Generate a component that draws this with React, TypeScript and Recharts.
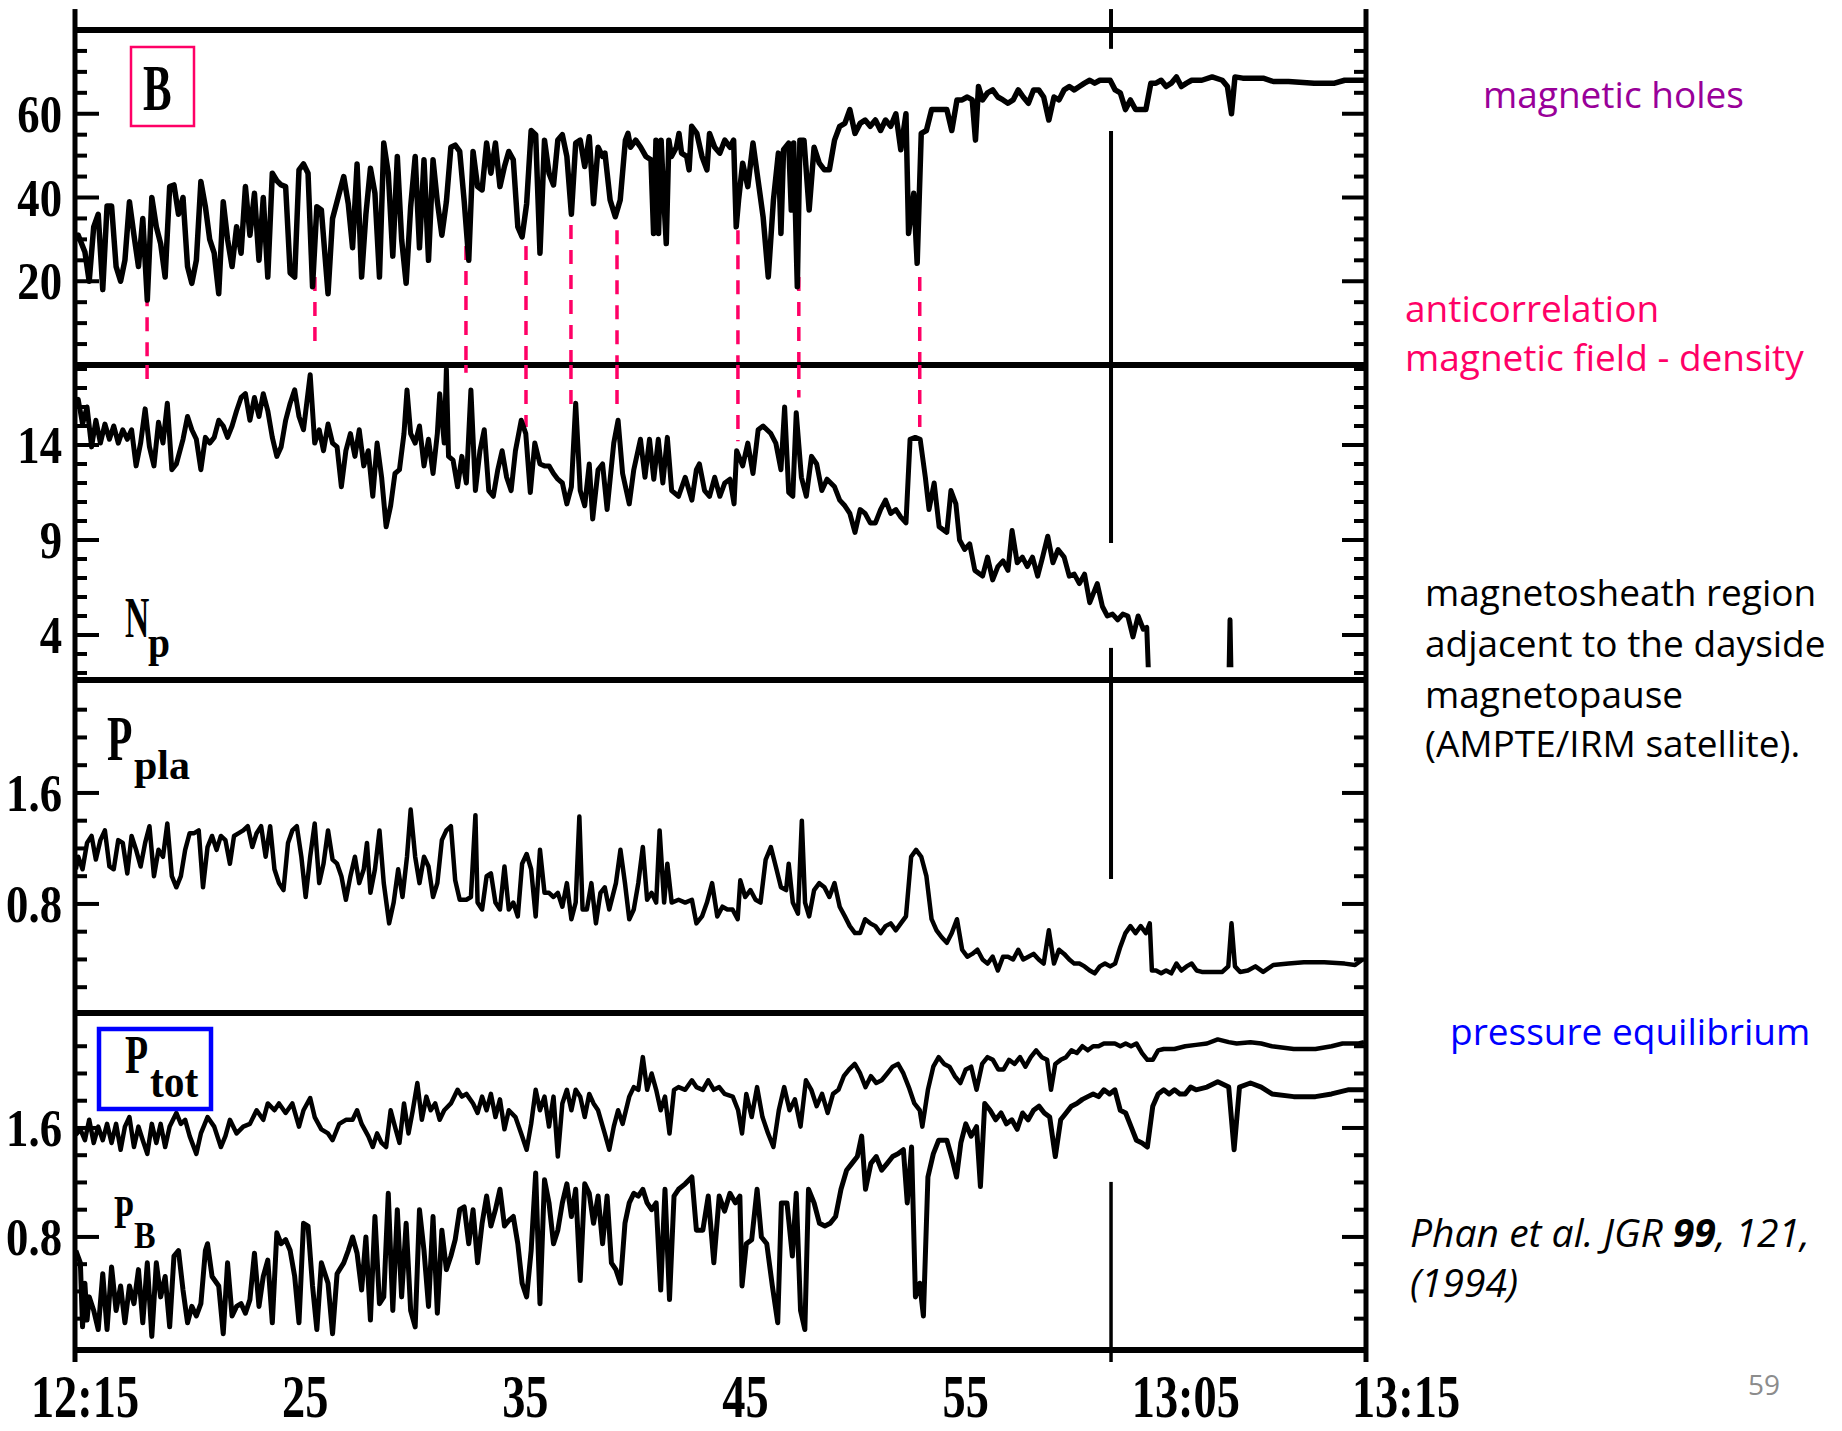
import React from 'react';
import { LineChart, Line, XAxis, YAxis, ReferenceLine } from 'recharts';

type Pt = [number, number | null];

// Time axis: minutes after 12:15 UT
const timeTicks = [0, 10, 20, 30, 40, 50, 60];
const timeLabels = ['12:15', '25', '35', '45', '55', '13:05', '13:15'];

// |B| (nT)
const fieldB: Pt[] = [
  [0.04, 30], [0.15, 31], [0.46, 27], [0.66, 20], [0.87, 33], [1.08, 36], [1.29, 18], [1.49, 38], [1.7, 38], [1.91, 23.5],
  [2.12, 20], [2.32, 25], [2.53, 39], [2.74, 31], [2.95, 23.5], [3.15, 35], [3.36, 15.5], [3.57, 40], [3.78, 33], [3.98, 29],
  [4.19, 21], [4.4, 42.6], [4.6, 43], [4.81, 36], [5.02, 40], [5.23, 23.5], [5.43, 19.5], [5.64, 25], [5.85, 43.8], [6.06, 37.8],
  [6.26, 30], [6.47, 26.7], [6.68, 17], [6.89, 39], [7.09, 30], [7.3, 23.5], [7.51, 33], [7.72, 26.7], [7.92, 42.6], [8.13, 31],
  [8.34, 41], [8.55, 25], [8.75, 40], [8.96, 21], [9.17, 45.8], [9.38, 44], [9.58, 43], [9.79, 42.6], [10.0, 22], [10.21, 21],
  [10.41, 46.6], [10.62, 48], [10.83, 45.8], [11.04, 18.7], [11.24, 37.8], [11.45, 37], [11.76, 17], [11.97, 35], [12.28, 41], [12.49, 45],
  [12.7, 38.5], [12.9, 28], [13.11, 48], [13.32, 21], [13.52, 36], [13.73, 47], [13.94, 41], [14.15, 21], [14.35, 53], [14.56, 45.8],
  [14.77, 26], [14.98, 49.8], [15.18, 30], [15.39, 19.5], [15.6, 37.8], [15.81, 49.8], [16.01, 28], [16.22, 49], [16.43, 25], [16.64, 49],
  [16.84, 39], [17.05, 31], [17.26, 39], [17.47, 52], [17.67, 52.5], [17.88, 51], [18.09, 39], [18.3, 25], [18.5, 51], [18.71, 42.6],
  [18.92, 41.8], [19.13, 53], [19.33, 45.8], [19.54, 53], [19.75, 42.6], [19.96, 47.4], [20.16, 51], [20.37, 49], [20.58, 33], [20.78, 30.6],
  [20.99, 38.5], [21.2, 56], [21.41, 55], [21.61, 26.7], [21.82, 53.7], [22.03, 45.8], [22.24, 43], [22.44, 53.7], [22.65, 55], [22.86, 49.8],
  [23.07, 36], [23.27, 53], [23.48, 53.7], [23.69, 47.4], [23.9, 54.5], [24.1, 38.5], [24.31, 52], [24.52, 49.8], [24.63, 50.6], [24.87, 39.4],
  [25.11, 35.4], [25.34, 39.4], [25.58, 53.7], [25.7, 55.3], [25.82, 52], [26.06, 53.7], [26.29, 52], [26.53, 49.8], [26.77, 49], [26.89, 31.4],
  [27.0, 53.7], [27.12, 31.4], [27.24, 53.7], [27.36, 40.2], [27.48, 29], [27.6, 53.7], [27.72, 49.8], [27.95, 52], [28.07, 55.3], [28.19, 50.6],
  [28.43, 49.8], [28.54, 46.6], [28.66, 57], [28.9, 55.3], [29.14, 49.8], [29.37, 46.6], [29.49, 55.3], [29.73, 52], [29.97, 50.6], [30.2, 53.7],
  [30.44, 52], [30.61, 53.7], [30.73, 33], [30.84, 39.4], [31.03, 48.2], [31.27, 42.6], [31.51, 53], [31.75, 44], [31.98, 35.4], [32.22, 21],
  [32.46, 39.4], [32.69, 50.6], [32.81, 31.4], [32.93, 51.4], [33.17, 53], [33.29, 37], [33.4, 53], [33.57, 18.7], [33.69, 53.7], [33.88, 53.7],
  [34.12, 37], [34.35, 52], [34.59, 48.2], [34.83, 46.6], [35.06, 46.6], [35.3, 53.7], [35.54, 57], [35.78, 57.7], [36.01, 61], [36.25, 55.3],
  [36.49, 57.7], [36.72, 58.5], [36.96, 57], [37.2, 58.5], [37.44, 56], [37.67, 58.5], [37.91, 57], [38.15, 60], [38.38, 51.4], [38.62, 60],
  [38.74, 31.4], [38.98, 41], [39.14, 24.3], [39.33, 55.3], [39.57, 56], [39.81, 61], [40.28, 61], [40.52, 61], [40.75, 56], [40.99, 63.3],
  [41.23, 63.3], [41.47, 64], [41.7, 63.3], [41.85, 53.7], [41.99, 66.5], [42.18, 63.3], [42.41, 65], [42.65, 65.7], [42.89, 64], [43.13, 63.3],
  [43.36, 62.5], [43.6, 63.3], [43.84, 65.7], [44.07, 64], [44.31, 62.5], [44.55, 65.7], [44.79, 65.7], [45.02, 64], [45.26, 58.5], [45.5, 64],
  [45.73, 63.3], [45.97, 65.7], [46.21, 66.5], [46.44, 65.7], [46.68, 66.5], [46.92, 67.3], [47.16, 68], [47.39, 67.3], [47.63, 68], [48.11, 68],
  [48.34, 65.7], [48.58, 65], [48.82, 61], [49.05, 63.3], [49.29, 61], [49.77, 61], [50.0, 67.3], [50.24, 67.3], [50.48, 68], [50.71, 66.5],
  [50.95, 67.3], [51.19, 68.8], [51.42, 66.5], [51.66, 67.3], [51.9, 68], [52.37, 68], [52.85, 68.8], [53.32, 68], [53.56, 66.5], [53.75, 60],
  [53.91, 68.8], [54.27, 68.5], [55.22, 68.5], [55.69, 67.7], [56.4, 67.7], [57.59, 67.3], [58.54, 67.3], [59.01, 68], [59.96, 68],
];

// Proton density Np (cm^-3); the record stops shortly after 13:04
const densityNp: Pt[] = [
  [0.04, 16], [0.15, 16.4], [0.35, 15.1], [0.56, 16.0], [0.77, 13.9], [0.97, 15.3], [1.18, 14.1], [1.39, 15.1], [1.6, 14.3], [1.8, 15.0],
  [2.01, 14.1], [2.22, 14.8], [2.43, 14.3], [2.63, 14.8], [2.84, 12.9], [3.05, 14.1], [3.26, 15.9], [3.46, 13.9], [3.67, 12.9], [3.88, 15.2],
  [4.09, 14.1], [4.29, 16.2], [4.5, 12.7], [4.71, 13.0], [5.02, 14.3], [5.23, 15.5], [5.43, 14.8], [5.64, 14.3], [5.85, 12.7], [6.06, 14.4],
  [6.26, 14.1], [6.47, 14.4], [6.68, 15.3], [6.89, 15.0], [7.09, 14.4], [7.3, 15.0], [7.51, 15.8], [7.72, 16.5], [7.92, 16.7], [8.13, 15.3],
  [8.34, 16.5], [8.55, 15.5], [8.75, 16.7], [8.96, 15.8], [9.17, 14.4], [9.38, 13.4], [9.58, 13.9], [9.79, 15.3], [10.0, 16.2], [10.21, 16.9],
  [10.41, 15.5], [10.62, 14.8], [10.93, 17.7], [11.14, 14.1], [11.35, 14.8], [11.55, 13.7], [11.76, 15.1], [11.97, 14.1], [12.18, 13.9], [12.38, 11.8],
  [12.59, 13.7], [12.8, 14.6], [13.01, 13.4], [13.21, 14.8], [13.42, 12.9], [13.63, 13.7], [13.84, 11.3], [14.04, 14.1], [14.25, 12.3], [14.46, 9.7],
  [14.67, 10.8], [14.87, 12.5], [15.08, 12.7], [15.29, 14.6], [15.43, 16.9], [15.6, 14.6], [15.81, 14.1], [16.01, 15.0], [16.22, 12.9], [16.43, 14.3],
  [16.64, 12.5], [16.84, 14.6], [16.95, 16.7], [17.16, 14.1], [17.26, 18.0], [17.36, 13.4], [17.57, 13.2], [17.78, 11.8], [17.98, 13.4], [18.19, 12.0],
  [18.4, 16.9], [18.61, 11.6], [18.82, 13.7], [19.02, 14.8], [19.23, 11.6], [19.44, 11.3], [19.65, 12.7], [19.85, 13.7], [20.06, 12.3], [20.27, 11.6],
  [20.47, 13.7], [20.74, 15.3], [20.95, 14.6], [21.16, 11.5], [21.37, 14.1], [21.61, 13.0], [21.82, 12.9], [22.03, 12.9], [22.24, 12.5], [22.44, 12.2],
  [22.65, 12.0], [22.86, 10.9], [23.07, 11.8], [23.27, 16.2], [23.48, 11.6], [23.69, 10.8], [23.9, 13.0], [24.06, 10.1], [24.31, 12.7], [24.52, 13.0],
  [24.73, 10.6], [25.04, 14.1], [25.24, 15.3], [25.45, 12.5], [25.76, 10.9], [25.97, 12.7], [26.28, 14.3], [26.49, 12.3], [26.7, 14.3], [26.9, 12.2],
  [27.11, 14.3], [27.32, 12.0], [27.53, 14.4], [27.73, 11.6], [28.05, 11.3], [28.36, 12.3], [28.67, 11.1], [28.88, 12.7], [29.02, 13.0], [29.26, 11.6],
  [29.49, 11.3], [29.73, 12.3], [29.97, 11.3], [30.2, 12.0], [30.44, 12.2], [30.63, 10.9], [30.75, 13.7], [31.03, 12.9], [31.27, 14.1], [31.51, 12.5],
  [31.75, 14.8], [31.98, 15.0], [32.34, 14.6], [32.57, 14.1], [32.81, 12.7], [32.98, 16.0], [33.17, 11.5], [33.36, 11.3], [33.52, 15.7], [33.76, 12.3],
  [33.99, 11.3], [34.23, 13.4], [34.47, 13.0], [34.71, 11.6], [34.95, 12.2], [35.3, 11.8], [35.54, 11.1], [35.78, 10.8], [36.01, 10.4], [36.25, 9.4],
  [36.49, 10.6], [36.72, 10.4], [36.96, 9.9], [37.2, 9.9], [37.44, 10.6], [37.67, 11.1], [37.91, 10.4], [38.15, 10.6], [38.38, 10.2], [38.62, 9.9],
  [38.81, 14.3], [39.05, 14.4], [39.28, 14.3], [39.52, 12.3], [39.69, 10.6], [39.93, 12.0], [40.16, 9.7], [40.52, 9.4], [40.71, 11.6], [40.94, 10.9],
  [41.11, 9.0], [41.35, 8.5], [41.58, 8.8], [41.82, 7.4], [42.18, 7.1], [42.41, 8.1], [42.65, 6.9], [42.89, 7.6], [43.13, 7.9], [43.36, 7.4],
  [43.55, 9.5], [43.79, 7.8], [44.03, 8.1], [44.26, 7.6], [44.5, 8.1], [44.74, 7.1], [44.97, 8.1], [45.21, 9.2], [45.45, 7.8], [45.69, 8.5],
  [45.97, 8.1], [46.21, 7.1], [46.44, 7.2], [46.68, 6.7], [46.92, 7.2], [47.16, 5.7], [47.51, 6.7], [47.75, 5.5], [47.98, 5.0], [48.22, 5.1],
  [48.46, 4.8], [48.7, 5.1], [48.93, 5.0], [49.17, 3.9], [49.41, 5.0], [49.65, 4.3], [49.81, 4.4], [49.88, 2.3], [49.9, null],
  [53.64, 2.3], [53.68, 4.8], [53.72, 2.3],
];

// Plasma pressure (nPa)
const plasmaP: Pt[] = [
  [0.04, 1.05], [0.15, 1.14], [0.35, 1.05], [0.56, 1.24], [0.77, 1.29], [0.97, 1.12], [1.18, 1.26], [1.39, 1.33], [1.6, 1.07], [1.8, 1.05],
  [2.01, 1.26], [2.22, 1.24], [2.43, 1.02], [2.63, 1.29], [2.84, 1.19], [3.05, 1.07], [3.26, 1.24], [3.46, 1.36], [3.67, 1.0], [3.88, 1.19],
  [4.09, 1.14], [4.29, 1.38], [4.5, 1.0], [4.71, 0.92], [4.92, 1.0], [5.12, 1.19], [5.33, 1.31], [5.54, 1.31], [5.75, 1.33], [5.95, 0.92],
  [6.16, 1.21], [6.37, 1.29], [6.58, 1.19], [6.78, 1.29], [6.99, 1.26], [7.2, 1.09], [7.39, 1.29], [7.61, 1.31], [7.82, 1.33], [8.03, 1.36],
  [8.24, 1.21], [8.44, 1.31], [8.65, 1.36], [8.86, 1.14], [9.07, 1.36], [9.27, 1.05], [9.48, 0.95], [9.69, 0.9], [9.9, 1.24], [10.1, 1.33],
  [10.31, 1.36], [10.52, 1.14], [10.72, 0.85], [10.93, 1.14], [11.14, 1.38], [11.35, 0.95], [11.55, 1.09], [11.76, 1.33], [11.97, 1.12], [12.18, 1.09],
  [12.38, 1.0], [12.59, 0.83], [12.8, 1.0], [13.01, 1.14], [13.21, 0.95], [13.42, 1.05], [13.57, 1.24], [13.73, 0.88], [13.94, 1.05], [14.15, 1.33],
  [14.35, 0.95], [14.6, 0.66], [14.81, 0.81], [15.02, 1.05], [15.22, 0.85], [15.43, 1.14], [15.6, 1.48], [15.81, 1.14], [16.01, 0.95], [16.22, 1.14],
  [16.43, 1.07], [16.64, 0.85], [16.84, 0.95], [17.05, 1.26], [17.26, 1.33], [17.47, 1.36], [17.67, 0.97], [17.88, 0.83], [18.19, 0.83], [18.4, 0.85],
  [18.61, 1.44], [18.71, 0.81], [18.92, 0.76], [19.13, 1.0], [19.33, 1.02], [19.54, 0.81], [19.75, 0.76], [19.96, 1.07], [20.16, 0.76], [20.37, 0.81],
  [20.58, 0.71], [20.78, 1.09], [20.99, 1.16], [21.2, 1.05], [21.41, 0.71], [21.61, 1.19], [21.82, 0.88], [22.03, 0.88], [22.24, 0.85], [22.44, 0.88],
  [22.65, 0.78], [22.86, 0.95], [23.07, 0.69], [23.27, 0.81], [23.44, 1.43], [23.59, 0.76], [23.79, 0.76], [24.0, 0.95], [24.21, 0.66], [24.42, 0.88],
  [24.62, 0.92], [24.83, 0.76], [25.14, 0.95], [25.35, 1.19], [25.56, 0.95], [25.76, 0.69], [25.97, 0.76], [26.18, 0.95], [26.39, 1.21], [26.59, 0.83],
  [26.8, 0.88], [27.01, 0.81], [27.17, 1.33], [27.38, 0.81], [27.53, 1.09], [27.73, 0.81], [28.05, 0.83], [28.36, 0.81], [28.67, 0.83], [28.88, 0.66],
  [29.14, 0.71], [29.37, 0.81], [29.61, 0.95], [29.85, 0.71], [30.09, 0.78], [30.32, 0.76], [30.56, 0.76], [30.8, 0.69], [30.92, 0.97], [31.15, 0.85],
  [31.39, 0.9], [31.63, 0.83], [31.86, 0.81], [32.1, 1.12], [32.34, 1.21], [32.57, 1.07], [32.81, 0.92], [33.05, 0.9], [33.17, 1.09], [33.36, 0.81],
  [33.6, 0.73], [33.78, 1.4], [33.93, 0.81], [34.12, 0.71], [34.35, 0.9], [34.59, 0.95], [34.83, 0.92], [35.06, 0.85], [35.3, 0.95], [35.54, 0.78],
  [35.78, 0.71], [36.01, 0.64], [36.25, 0.59], [36.49, 0.59], [36.72, 0.69], [36.96, 0.66], [37.2, 0.64], [37.44, 0.59], [37.67, 0.64], [37.91, 0.66],
  [38.15, 0.61], [38.38, 0.66], [38.62, 0.71], [38.86, 1.14], [39.09, 1.19], [39.33, 1.14], [39.57, 1.0], [39.81, 0.69], [40.04, 0.61], [40.28, 0.56],
  [40.52, 0.52], [40.75, 0.59], [40.99, 0.69], [41.23, 0.47], [41.47, 0.42], [41.7, 0.44], [41.94, 0.47], [42.18, 0.4], [42.41, 0.37], [42.65, 0.42],
  [42.89, 0.32], [43.13, 0.42], [43.36, 0.42], [43.6, 0.4], [43.84, 0.47], [44.07, 0.4], [44.31, 0.42], [44.55, 0.44], [44.79, 0.4], [45.02, 0.37],
  [45.26, 0.61], [45.5, 0.37], [45.73, 0.47], [45.97, 0.44], [46.21, 0.4], [46.44, 0.37], [46.68, 0.37], [46.92, 0.35], [47.16, 0.32], [47.39, 0.3],
  [47.63, 0.35], [47.87, 0.37], [48.11, 0.35], [48.34, 0.37], [48.58, 0.49], [48.82, 0.59], [49.05, 0.64], [49.29, 0.59], [49.53, 0.64], [49.77, 0.59],
  [49.95, 0.66], [50.05, 0.32], [50.24, 0.32], [50.48, 0.3], [50.71, 0.32], [50.95, 0.3], [51.19, 0.37], [51.42, 0.32], [51.66, 0.35], [51.9, 0.37],
  [52.13, 0.32], [52.37, 0.31], [52.85, 0.31], [53.32, 0.31], [53.6, 0.35], [53.75, 0.66], [53.91, 0.35], [54.15, 0.31], [54.51, 0.32], [54.86, 0.35],
  [55.22, 0.31], [55.69, 0.36], [56.4, 0.37], [57.11, 0.38], [58.06, 0.38], [59.01, 0.37], [59.49, 0.36], [59.84, 0.4],
];

// Total pressure (nPa)
const totalP: Pt[] = [
  [0.04, 1.55], [0.25, 1.59], [0.46, 1.51], [0.66, 1.66], [0.87, 1.49], [1.08, 1.61], [1.29, 1.51], [1.49, 1.63], [1.7, 1.49], [1.91, 1.63],
  [2.12, 1.44], [2.32, 1.61], [2.53, 1.68], [2.74, 1.46], [2.95, 1.61], [3.15, 1.51], [3.36, 1.41], [3.57, 1.63], [3.78, 1.49], [3.98, 1.63],
  [4.19, 1.46], [4.4, 1.61], [4.71, 1.71], [4.92, 1.63], [5.12, 1.66], [5.33, 1.54], [5.64, 1.41], [5.85, 1.56], [6.16, 1.68], [6.47, 1.61],
  [6.78, 1.46], [6.99, 1.54], [7.2, 1.66], [7.51, 1.56], [7.82, 1.61], [8.13, 1.63], [8.44, 1.73], [8.75, 1.66], [8.96, 1.78], [9.27, 1.73],
  [9.48, 1.78], [9.79, 1.71], [10.1, 1.78], [10.41, 1.61], [10.62, 1.73], [10.93, 1.82], [11.14, 1.68], [11.45, 1.59], [11.76, 1.56], [11.97, 1.51],
  [12.28, 1.63], [12.59, 1.66], [12.9, 1.66], [13.11, 1.73], [13.32, 1.63], [13.63, 1.54], [13.84, 1.46], [14.04, 1.56], [14.25, 1.49], [14.46, 1.46],
  [14.67, 1.73], [14.87, 1.61], [15.08, 1.49], [15.29, 1.78], [15.5, 1.56], [15.7, 1.73], [15.91, 1.93], [16.12, 1.66], [16.33, 1.83], [16.53, 1.73],
  [16.74, 1.78], [16.95, 1.66], [17.16, 1.73], [17.47, 1.78], [17.78, 1.88], [17.98, 1.83], [18.19, 1.85], [18.5, 1.78], [18.71, 1.71], [18.92, 1.83],
  [19.13, 1.73], [19.33, 1.85], [19.54, 1.68], [19.75, 1.81], [19.96, 1.59], [20.16, 1.73], [20.47, 1.68], [20.78, 1.54], [20.99, 1.44], [21.2, 1.63],
  [21.41, 1.88], [21.61, 1.73], [21.82, 1.83], [22.03, 1.61], [22.24, 1.83], [22.44, 1.39], [22.65, 1.78], [22.86, 1.88], [23.07, 1.73], [23.27, 1.88],
  [23.48, 1.83], [23.69, 1.68], [23.9, 1.85], [24.1, 1.78], [24.31, 1.73], [24.62, 1.56], [24.83, 1.44], [25.04, 1.61], [25.24, 1.73], [25.45, 1.63],
  [25.76, 1.83], [25.97, 1.9], [26.18, 1.88], [26.39, 2.12], [26.59, 1.88], [26.8, 2.0], [27.01, 1.88], [27.22, 1.73], [27.42, 1.83], [27.63, 1.56],
  [27.84, 1.88], [28.05, 1.9], [28.36, 1.88], [28.67, 1.95], [28.88, 1.9], [29.18, 1.88], [29.43, 1.95], [29.69, 1.88], [29.94, 1.9], [30.19, 1.85],
  [30.57, 1.83], [30.82, 1.73], [31.0, 1.56], [31.2, 1.85], [31.45, 1.68], [31.7, 1.9], [31.95, 1.68], [32.21, 1.56], [32.46, 1.46], [32.71, 1.73],
  [32.96, 1.9], [33.21, 1.73], [33.46, 1.81], [33.72, 1.61], [33.97, 1.95], [34.22, 1.88], [34.47, 1.76], [34.72, 1.85], [34.98, 1.71], [35.23, 1.85],
  [35.48, 1.88], [35.73, 1.98], [35.98, 2.03], [36.24, 2.07], [36.49, 2.0], [36.74, 1.9], [36.99, 1.98], [37.24, 1.93], [37.49, 1.95], [37.75, 2.0],
  [38.0, 2.05], [38.25, 2.07], [38.5, 2.0], [38.75, 1.9], [39.01, 1.78], [39.26, 1.73], [39.38, 1.61], [39.64, 1.88], [39.89, 2.05], [40.14, 2.12],
  [40.39, 2.07], [40.64, 2.05], [40.89, 1.98], [41.15, 1.93], [41.4, 2.03], [41.65, 2.05], [41.9, 1.88], [42.16, 2.07], [42.41, 2.12], [42.66, 2.1],
  [42.91, 2.03], [43.16, 2.03], [43.41, 2.1], [43.67, 2.07], [43.92, 2.12], [44.17, 2.05], [44.42, 2.12], [44.67, 2.17], [44.93, 2.12], [45.18, 2.1],
  [45.36, 1.88], [45.56, 2.07], [45.81, 2.1], [46.06, 2.12], [46.31, 2.17], [46.56, 2.15], [46.82, 2.2], [47.07, 2.17], [47.32, 2.2], [47.57, 2.2],
  [47.82, 2.22], [48.08, 2.22], [48.33, 2.22], [48.58, 2.2], [48.83, 2.22], [49.08, 2.2], [49.33, 2.22], [49.59, 2.15], [49.84, 2.1], [50.09, 2.1],
  [50.34, 2.17], [50.6, 2.18], [51.1, 2.18], [51.6, 2.2], [52.1, 2.21], [52.61, 2.22], [53.11, 2.25], [53.62, 2.23], [53.99, 2.22], [54.63, 2.23],
  [55.13, 2.22], [55.63, 2.2], [56.64, 2.18], [57.65, 2.18], [58.4, 2.2], [58.91, 2.22], [59.66, 2.22], [59.91, 2.23],
];

// Magnetic pressure (nPa)
const magneticP: Pt[] = [
  [0.04, 0.7], [0.25, 0.61], [0.35, 0.14], [0.46, 0.46], [0.56, 0.19], [0.66, 0.36], [0.87, 0.26], [1.08, 0.12], [1.29, 0.53], [1.49, 0.12],
  [1.7, 0.58], [1.91, 0.26], [2.12, 0.44], [2.32, 0.17], [2.53, 0.44], [2.74, 0.31], [2.95, 0.56], [3.15, 0.17], [3.36, 0.61], [3.57, 0.07],
  [3.78, 0.61], [3.98, 0.36], [4.19, 0.51], [4.4, 0.14], [4.6, 0.66], [4.81, 0.7], [5.02, 0.41], [5.23, 0.17], [5.43, 0.29], [5.64, 0.22],
  [5.85, 0.31], [6.06, 0.7], [6.16, 0.75], [6.37, 0.51], [6.68, 0.44], [6.89, 0.09], [7.09, 0.61], [7.3, 0.22], [7.51, 0.29], [7.72, 0.31],
  [7.92, 0.24], [8.13, 0.34], [8.34, 0.68], [8.55, 0.29], [8.75, 0.51], [8.96, 0.63], [9.17, 0.17], [9.38, 0.83], [9.58, 0.75], [9.79, 0.78],
  [10.0, 0.7], [10.21, 0.51], [10.41, 0.17], [10.62, 0.9], [10.83, 0.88], [11.04, 0.44], [11.24, 0.12], [11.45, 0.61], [11.76, 0.46], [11.97, 0.09],
  [12.18, 0.53], [12.49, 0.61], [12.7, 0.7], [12.9, 0.8], [13.11, 0.68], [13.32, 0.41], [13.52, 0.8], [13.73, 0.19], [13.94, 0.95], [14.15, 0.31],
  [14.35, 0.36], [14.56, 1.12], [14.77, 0.26], [14.98, 1.0], [15.18, 0.36], [15.39, 0.9], [15.6, 0.26], [15.81, 0.14], [16.01, 1.0], [16.22, 0.7],
  [16.43, 0.29], [16.64, 0.95], [16.84, 0.24], [17.05, 0.85], [17.26, 0.56], [17.47, 0.66], [17.67, 0.78], [17.88, 1.0], [18.09, 1.02], [18.3, 0.75],
  [18.5, 1.0], [18.71, 0.61], [18.92, 0.9], [19.13, 1.1], [19.33, 0.88], [19.54, 1.0], [19.75, 1.15], [19.96, 0.88], [20.16, 0.92], [20.37, 0.95],
  [20.58, 0.75], [20.78, 0.46], [20.99, 0.36], [21.2, 0.7], [21.41, 1.27], [21.61, 0.31], [21.82, 1.22], [22.03, 1.05], [22.24, 0.75], [22.44, 0.85],
  [22.65, 1.05], [22.86, 1.19], [23.07, 0.95], [23.27, 1.15], [23.48, 0.48], [23.69, 1.19], [23.9, 1.12], [24.1, 0.9], [24.31, 1.1], [24.52, 0.75],
  [24.73, 1.1], [24.93, 0.61], [25.14, 0.56], [25.35, 0.46], [25.56, 0.9], [25.76, 1.05], [25.97, 1.12], [26.18, 1.1], [26.39, 1.15], [26.59, 1.05],
  [26.8, 1.0], [27.01, 1.05], [27.22, 0.41], [27.42, 1.15], [27.63, 0.34], [27.84, 1.1], [28.05, 1.15], [28.36, 1.19], [28.67, 1.24], [28.88, 0.85],
  [29.18, 0.85], [29.43, 1.1], [29.69, 0.61], [29.94, 1.1], [30.19, 0.99], [30.44, 1.12], [30.69, 1.05], [30.9, 1.1], [31.0, 0.44], [31.2, 0.75],
  [31.45, 0.78], [31.7, 1.15], [31.9, 0.8], [32.15, 0.75], [32.41, 0.44], [32.66, 0.17], [32.83, 1.05], [33.09, 1.05], [33.34, 0.66], [33.52, 1.12],
  [33.72, 0.26], [33.92, 0.12], [34.09, 1.15], [34.35, 1.05], [34.6, 0.9], [34.85, 0.88], [35.1, 0.9], [35.35, 0.95], [35.6, 1.15], [35.86, 1.29],
  [36.11, 1.34], [36.36, 1.39], [36.56, 1.54], [36.74, 1.15], [36.99, 1.34], [37.24, 1.39], [37.49, 1.29], [37.75, 1.34], [38.0, 1.39], [38.25, 1.41],
  [38.5, 1.44], [38.68, 1.05], [38.88, 1.46], [39.06, 0.36], [39.26, 0.46], [39.43, 0.22], [39.64, 1.24], [39.89, 1.41], [40.14, 1.51], [40.52, 1.51],
  [40.77, 1.37], [40.97, 1.24], [41.17, 1.49], [41.4, 1.63], [41.65, 1.54], [41.9, 1.61], [42.08, 1.17], [42.28, 1.78], [42.53, 1.73], [42.79, 1.66],
  [43.04, 1.71], [43.29, 1.63], [43.54, 1.66], [43.79, 1.59], [44.04, 1.71], [44.3, 1.66], [44.55, 1.73], [44.8, 1.76], [45.05, 1.71], [45.3, 1.68],
  [45.56, 1.39], [45.81, 1.66], [46.06, 1.71], [46.31, 1.76], [46.56, 1.78], [46.82, 1.81], [47.07, 1.83], [47.32, 1.85], [47.57, 1.83], [47.82, 1.88],
  [48.08, 1.85], [48.33, 1.88], [48.58, 1.73], [48.83, 1.71], [49.08, 1.61], [49.33, 1.51], [49.59, 1.49], [49.84, 1.46], [50.09, 1.76], [50.34, 1.85],
  [50.6, 1.88], [50.85, 1.85], [51.1, 1.88], [51.35, 1.85], [51.6, 1.85], [51.85, 1.9], [52.1, 1.88], [52.61, 1.9], [53.11, 1.94], [53.62, 1.9],
  [53.87, 1.44], [54.12, 1.9], [54.63, 1.93], [55.13, 1.9], [55.63, 1.85], [56.64, 1.83], [57.65, 1.83], [58.4, 1.85], [59.16, 1.88], [59.91, 1.88],
];

// Magnetic holes: time, B level where the marker starts, B level where it ends, Np level where it ends
const holeTimes = [3.35, 11.15, 18.17, 20.96, 23.05, 25.19, 30.81, 33.64, 39.26];
const holeFieldTop = [17.4, 21, 28.4, 28.4, 39.4, 32.2, 32.2, 21, 21];
const holeFieldBottom = [0, 4.3, 0, 0, 0, 0, 0, 0, 0];
const holeDensityEnd: (number | null)[] = [16.9, null, 17.8, 14.95, 15.7, 15.7, 14.2, 16.5, 14.95];

// Data-boundary marker near 13:03
const markerTime = 48.15;

// Panel axes
const bDomain: [number, number] = [0, 80];
const bTicks = [5, 10, 15, 20, 25, 30, 35, 40, 45, 50, 55, 60, 65, 70, 75];
const bLabels = [20, 40, 60];

const nDomain: [number, number] = [1.63, 18.21];
const nTicks = [2, 3, 4, 5, 6, 7, 8, 9, 10, 11, 12, 13, 14, 15, 16, 17, 18];
const nLabels = [4, 9, 14];

const plaDomain: [number, number] = [0.014, 2.414];
const pTicks = [0.2, 0.4, 0.6, 0.8, 1.0, 1.2, 1.4, 1.6, 1.8, 2.0, 2.2];
const pLabels = [0.8, 1.6];

const totDomain: [number, number] = [-0.03, 2.444];

const SERIF = "'Liberation Serif', 'DejaVu Serif', serif";
const SANS = "'Open Sans', 'Noto Sans', sans-serif";
const PINK = '#FF0066';
const CHART_W = 1842;
const LEFT_W = 75;
const RIGHT_W = 476;

const rows = (pts: Pt[]) => pts.map(([t, v]) => ({ t, v }));

const intFmt = (v: number) => String(v);
const decFmt = (v: number) => v.toFixed(1);

function makeYTick(side: 'left' | 'right', labels: number[], fmt: (v: number) => string) {
  return (props: any) => {
    const { x, y, payload } = props;
    const v = payload.value as number;
    const major = labels.includes(v);
    const dir = side === 'left' ? 1 : -1;
    const len = major ? 24 : 12;
    return (
      <g>
        <line x1={x} y1={y} x2={x + dir * len} y2={y} stroke="#000" strokeWidth={4} />
        {side === 'left' && major ? (
          <text
            transform={`translate(${x - 13},${y + 18}) scale(0.86,1)`}
            textAnchor="end"
            fontFamily={SERIF}
            fontWeight="bold"
            fontSize={52}
            fill="#000"
          >
            {fmt(v)}
          </text>
        ) : null}
      </g>
    );
  };
}

const timeTick = (props: any) => {
  const { x, y, payload } = props;
  const i = timeTicks.indexOf(payload.value);
  return (
    <text
      transform={`translate(${x + 10 + i * 5},${y + 67}) scale(0.76,1)`}
      textAnchor="middle"
      fontFamily={SERIF}
      fontWeight="bold"
      fontSize={61}
      fill="#000"
    >
      {timeLabels[i]}
    </text>
  );
};

type PanelProps = {
  top: number;
  height: number;
  marginTop: number;
  marginBottom: number;
  domain: [number, number];
  ticks: number[];
  labels: number[];
  fmt: (v: number) => string;
  showTime?: boolean;
  children?: React.ReactNode;
};

function Panel(p: PanelProps) {
  return (
    <div style={{ position: 'absolute', left: 0, top: p.top }}>
      <LineChart
        width={CHART_W}
        height={p.height}
        margin={{ top: p.marginTop, right: 0, bottom: p.marginBottom, left: 0 }}
      >
        <XAxis
          type="number"
          dataKey="t"
          domain={[0, 60]}
          ticks={timeTicks}
          interval={0}
          allowDataOverflow
          hide={!p.showTime}
          height={p.showTime ? 81 : 0}
          axisLine={false}
          tickLine={false}
          tickSize={0}
          tickMargin={0}
          tick={timeTick}
        />
        <YAxis
          yAxisId="l"
          orientation="left"
          type="number"
          width={LEFT_W}
          domain={p.domain}
          ticks={p.ticks}
          interval={0}
          allowDataOverflow
          tickSize={0}
          tickMargin={0}
          tickLine={false}
          axisLine={{ stroke: '#000', strokeWidth: 5 }}
          tick={makeYTick('left', p.labels, p.fmt)}
        />
        <YAxis
          yAxisId="r"
          orientation="right"
          type="number"
          width={RIGHT_W}
          domain={p.domain}
          ticks={p.ticks}
          interval={0}
          allowDataOverflow
          tickSize={0}
          tickMargin={0}
          tickLine={false}
          axisLine={{ stroke: '#000', strokeWidth: 5 }}
          tick={makeYTick('right', p.labels, p.fmt)}
        />
        <ReferenceLine yAxisId="l" y={p.domain[1]} stroke="#000" strokeWidth={6} ifOverflow="visible" />
        <ReferenceLine yAxisId="l" y={p.domain[0]} stroke="#000" strokeWidth={6} ifOverflow="visible" />
        {p.children}
      </LineChart>
    </div>
  );
}

const seg = (x: number, y1: number, y2: number) => [
  { x, y: y1 },
  { x, y: y2 },
];

export default function App() {
  return (
    <div
      style={{
        position: 'absolute',
        left: 0,
        top: 0,
        width: 1842,
        height: 1431,
        background: '#fff',
        overflow: 'hidden',
      }}
    >
      {/* |B| */}
      <Panel top={0} height={370} marginTop={30} marginBottom={5} domain={bDomain} ticks={bTicks} labels={bLabels} fmt={intFmt}>
        <ReferenceLine yAxisId="l" segment={seg(0, 80, 85)} stroke="#000" strokeWidth={5} ifOverflow="visible" />
        <ReferenceLine yAxisId="l" segment={seg(60, 80, 85)} stroke="#000" strokeWidth={5} ifOverflow="visible" />
        <ReferenceLine yAxisId="l" segment={seg(markerTime, 85, 75.5)} stroke="#000" strokeWidth={4} ifOverflow="visible" />
        <ReferenceLine yAxisId="l" segment={seg(markerTime, 55.9, 0)} stroke="#000" strokeWidth={4} ifOverflow="visible" />
        {holeTimes.map((t, i) => (
          <ReferenceLine
            key={`hb${i}`}
            yAxisId="l"
            segment={seg(t, holeFieldTop[i], holeFieldBottom[i])}
            stroke={PINK}
            strokeWidth={3.5}
            strokeDasharray="14 11"
            ifOverflow="visible"
          />
        ))}
        <Line yAxisId="l" data={rows(fieldB)} dataKey="v" type="linear" stroke="#000" strokeWidth={5.5} dot={false} isAnimationActive={false} strokeLinejoin="round" />
      </Panel>

      {/* Np */}
      <Panel top={360} height={325} marginTop={5} marginBottom={5} domain={nDomain} ticks={nTicks} labels={nLabels} fmt={intFmt}>
        <ReferenceLine yAxisId="l" segment={seg(markerTime, nDomain[1], 8.84)} stroke="#000" strokeWidth={4} ifOverflow="visible" />
        <ReferenceLine yAxisId="l" segment={seg(markerTime, 3.32, nDomain[0])} stroke="#000" strokeWidth={4} ifOverflow="visible" />
        {holeTimes.map((t, i) =>
          holeDensityEnd[i] === null ? null : (
            <ReferenceLine
              key={`hn${i}`}
              yAxisId="l"
              segment={seg(t, nDomain[1], holeDensityEnd[i] as number)}
              stroke={PINK}
              strokeWidth={3.5}
              strokeDasharray="14 11"
              ifOverflow="visible"
            />
          )
        )}
        <Line yAxisId="l" data={rows(densityNp)} dataKey="v" type="linear" stroke="#000" strokeWidth={5} dot={false} isAnimationActive={false} strokeLinejoin="round" />
      </Panel>

      {/* P plasma */}
      <Panel top={675} height={343} marginTop={5} marginBottom={5} domain={plaDomain} ticks={pTicks} labels={pLabels} fmt={decFmt}>
        <ReferenceLine yAxisId="l" segment={seg(markerTime, plaDomain[1], 0.98)} stroke="#000" strokeWidth={4} ifOverflow="visible" />
        <Line yAxisId="l" data={rows(plasmaP)} dataKey="v" type="linear" stroke="#000" strokeWidth={4.5} dot={false} isAnimationActive={false} strokeLinejoin="round" />
      </Panel>

      {/* P total and P B */}
      <Panel top={1008} height={423} marginTop={5} marginBottom={0} domain={totDomain} ticks={pTicks} labels={pLabels} fmt={decFmt} showTime>
        <ReferenceLine yAxisId="l" segment={seg(0, totDomain[0], -0.118)} stroke="#000" strokeWidth={5} ifOverflow="visible" />
        <ReferenceLine yAxisId="l" segment={seg(60, totDomain[0], -0.118)} stroke="#000" strokeWidth={5} ifOverflow="visible" />
        <ReferenceLine yAxisId="l" segment={seg(markerTime, 1.204, -0.118)} stroke="#000" strokeWidth={3.5} ifOverflow="visible" />
        <Line yAxisId="l" data={rows(totalP)} dataKey="v" type="linear" stroke="#000" strokeWidth={4.5} dot={false} isAnimationActive={false} strokeLinejoin="round" />
        <Line yAxisId="l" data={rows(magneticP)} dataKey="v" type="linear" stroke="#000" strokeWidth={5} dot={false} isAnimationActive={false} strokeLinejoin="round" />
      </Panel>

      {/* Panel labels and side notes */}
      <svg width={1842} height={1431} style={{ position: 'absolute', left: 0, top: 0, pointerEvents: 'none' }}>
        <g fontFamily={SERIF} fontWeight="bold" fill="#000">
          <rect x={131} y={47} width={63} height={79} fill="none" stroke={PINK} strokeWidth={2.5} />
          <text transform="translate(143,110) scale(0.65,1)" fontSize={66}>B</text>

          <text transform="translate(125,637) scale(0.6,1)" fontSize={56}>N</text>
          <text transform="translate(148,657) scale(0.9,1)" fontSize={44}>p</text>

          <text transform="translate(107,760) scale(0.65,1)" fontSize={64}>P</text>
          <text transform="translate(134,779) scale(1,1)" fontSize={42}>pla</text>

          <rect x={99} y={1029} width={112} height={80} fill="none" stroke="#0000FF" strokeWidth={4.5} />
          <text transform="translate(125,1073) scale(0.7,1)" fontSize={54}>P</text>
          <text transform="translate(150,1097) scale(0.9,1)" fontSize={46}>tot</text>

          <text transform="translate(114,1228) scale(0.7,1)" fontSize={46}>P</text>
          <text transform="translate(134,1248) scale(0.85,1)" fontSize={38}>B</text>
        </g>

        <g fontFamily={SANS} fontSize={37}>
          <text x={1483} y={108} fill="#990099">magnetic holes</text>
          <text x={1405} y={322} fill={PINK}>anticorrelation</text>
          <text x={1405} y={371} fill={PINK}>magnetic field - density</text>
          <text x={1425} y={606} fill="#000">magnetosheath region</text>
          <text x={1425} y={657} fill="#000">adjacent to the dayside</text>
          <text x={1425} y={708} fill="#000">magnetopause</text>
          <text x={1425} y={757} fill="#000">(AMPTE/IRM satellite).</text>
          <text x={1450} y={1045} fill="#0000FF">pressure equilibrium</text>
          <text x={1410} y={1247} fill="#000" fontStyle="italic" fontSize={39}>
            Phan et al. JGR <tspan fontWeight="bold">99</tspan>, 121,
          </text>
          <text x={1410} y={1297} fill="#000" fontStyle="italic" fontSize={39}>(1994)</text>
          <text x={1748} y={1395} fill="#8c8c8c" fontSize={28}>59</text>
        </g>
      </svg>
    </div>
  );
}
